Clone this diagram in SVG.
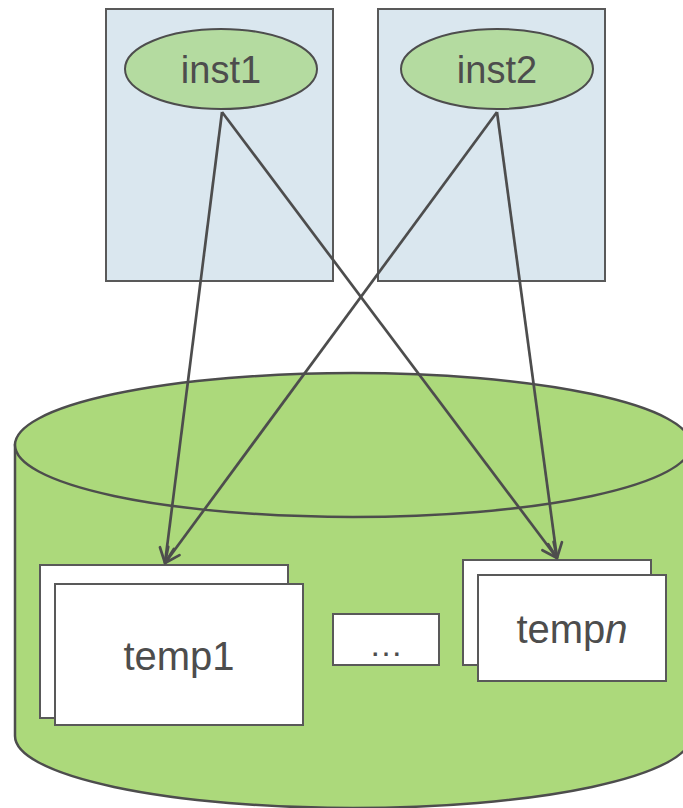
<svg xmlns="http://www.w3.org/2000/svg" width="683" height="808" viewBox="0 0 683 808">
  <style>
    .host { fill: #dae7ef; stroke: #595959; stroke-width: 2; }
    .inst { fill: #b4dba0; stroke: #4d4d4d; stroke-width: 2; }
    .db { fill: #acd97b; stroke: #4d4d4d; stroke-width: 2.5; }
    .tbl { fill: #ffffff; stroke: #595959; stroke-width: 2; }
    .lbl { font-family: "Liberation Sans", Arial, sans-serif; fill: #4d4d4d; text-anchor: middle; }
    .link { fill: none; stroke: #4d4d4d; stroke-width: 2.7; marker-end: url(#open); }
  </style>
  <defs>
    <marker id="open" viewBox="0 0 20 20" refX="17" refY="10" markerWidth="20" markerHeight="20" markerUnits="userSpaceOnUse" orient="auto">
      <path d="M2,3 L17,10 L2,17" fill="none" stroke="#4d4d4d" stroke-width="2.7" stroke-linecap="round" stroke-linejoin="round"/>
    </marker>
  </defs>

  <!-- database cylinder -->
  <g id="database">
    <path class="db" d="M15,445 L15,736 A338,72 0 0 0 691,736 L691,445 Z"/>
    <ellipse class="db" cx="353" cy="445" rx="338" ry="72"/>
  </g>

  <!-- host boxes with instances -->
  <g id="host1">
    <rect class="host" x="106" y="9" width="227" height="272"/>
  </g>
  <g id="host2">
    <rect class="host" x="378" y="9" width="227" height="272"/>
  </g>
  <g id="inst1">
    <ellipse class="inst" cx="221" cy="69" rx="96" ry="40"/>
    <text class="lbl" x="221" y="83" font-size="38">inst1</text>
  </g>
  <g id="inst2">
    <ellipse class="inst" cx="497" cy="69" rx="96" ry="40"/>
    <text class="lbl" x="497" y="83" font-size="38">inst2</text>
  </g>

  <!-- temp tables -->
  <g id="temp1">
    <rect class="tbl" x="40" y="565" width="248" height="153"/>
    <rect class="tbl" x="55" y="584" width="248" height="141"/>
    <text class="lbl" x="179" y="670" font-size="40">temp1</text>
  </g>
  <g id="ellipsis">
    <rect class="tbl" x="333" y="614" width="106" height="51"/>
    <text class="lbl" x="386" y="656" font-size="34">…</text>
  </g>
  <g id="tempn">
    <rect class="tbl" x="463" y="560" width="188" height="105"/>
    <rect class="tbl" x="478" y="575" width="188" height="106"/>
    <text class="lbl" x="572" y="643" font-size="40">temp<tspan font-style="italic">n</tspan></text>
  </g>

  <!-- connectors -->
  <g id="connectors">
    <line class="link" x1="222" y1="112" x2="165" y2="563"/>
    <line class="link" x1="222" y1="112" x2="557" y2="558"/>
    <line class="link" x1="497" y1="112" x2="165" y2="563"/>
    <line class="link" x1="497" y1="112" x2="557" y2="558"/>
  </g>
</svg>
